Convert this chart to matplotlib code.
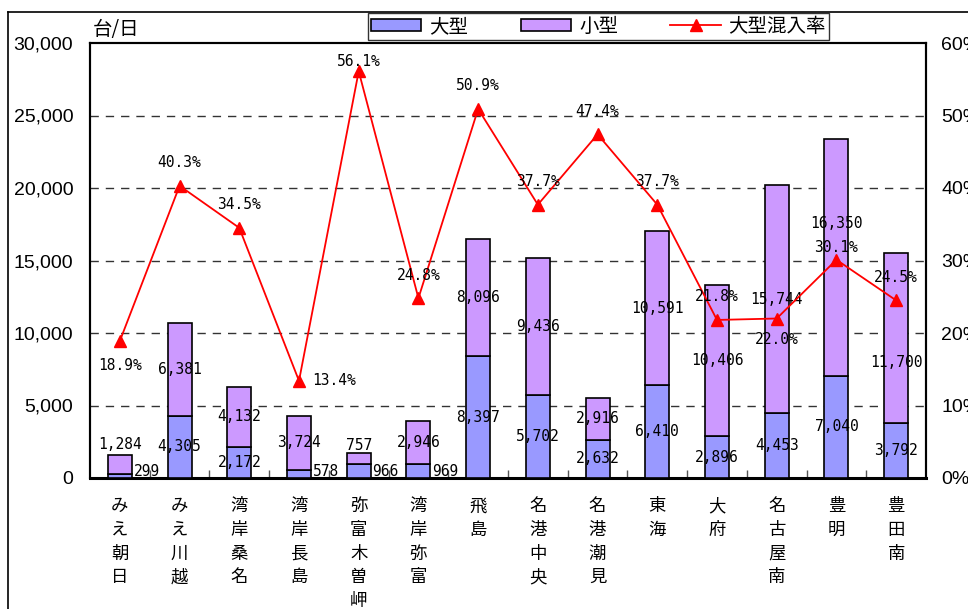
import matplotlib
matplotlib.use("Agg")
import matplotlib.pyplot as plt
from matplotlib.lines import Line2D
from matplotlib.patches import Patch
from matplotlib.ticker import FixedLocator, FuncFormatter
import numpy as np

plt.rcParams['font.family'] = ['Noto Sans CJK JP', 'DejaVu Sans']

# Traffic per toll gate (vehicles/day)
stations = ["みえ朝日", "みえ川越", "湾岸桑名", "湾岸長島", "弥富木曽岬", "湾岸弥富", "飛島",
            "名港中央", "名港潮見", "東海", "大府", "名古屋南", "豊明", "豊田南"]
large = [299, 4305, 2172, 578, 966, 969, 8397, 5702, 2632, 6410, 2896, 4453, 7040, 3792]
small = [1284, 6381, 4132, 3724, 757, 2946, 8096, 9436, 2916, 10591, 10406, 15744, 16350, 11700]
large_ratio = [18.9, 40.3, 34.5, 13.4, 56.1, 24.8, 50.9, 37.7, 47.4, 37.7, 21.8, 22.0, 30.1, 24.5]

C_LARGE = "#9999FF"
C_SMALL = "#CC99FF"
NUM_FONT = "DejaVu Sans Mono"

W, H = 968, 609
fig = plt.figure(figsize=(W / 100, H / 100), dpi=100)
ax = fig.add_axes([90 / W, (H - 478) / H, (926 - 90) / W, (478 - 43) / H])

x = np.arange(len(stations))
bw = 0.40
ax.bar(x, large, width=bw, color=C_LARGE, edgecolor="black", linewidth=1.2, zorder=3)
ax.bar(x, small, width=bw, bottom=large, color=C_SMALL, edgecolor="black",
       linewidth=1.2, zorder=3)

ax.set_xlim(-0.5, len(stations) - 0.5)
ax.set_ylim(0, 30000)
ax.set_yticks(range(0, 30001, 5000))
ax.yaxis.set_major_formatter(FuncFormatter(lambda v, p: f"{int(v):,}"))
for v in range(5000, 30000, 5000):
    ax.axhline(v, color="#333333", lw=1.0, ls=(0, (6, 5)), zorder=1)

ax.set_xticks(x)
ax.set_xticklabels(["\n".join(s) for s in stations], fontsize=12.5, linespacing=1.4)
ax.xaxis.set_minor_locator(FixedLocator(np.arange(0.5, len(stations) - 1, 1.0)))
ax.tick_params(axis="x", which="major", length=0, pad=14)
ax.tick_params(axis="x", which="minor", direction="in", length=6, width=1, color="#555555")
ax.tick_params(axis="y", length=0, pad=12, labelsize=14)
for lab in ax.get_yticklabels():
    lab.set_fontfamily("Liberation Sans")
for sp in ax.spines.values():
    sp.set_linewidth(1.5)
ax.spines["bottom"].set_linewidth(2.2)

# value labels for the two bar segments
large_side = {0, 3, 4, 5}          # too short: label sits to the right of the bar
small_over = {0: 11, 4: 8}         # label placed above the bar top (px)
small_shift = {12: 34, 13: -24}    # nudged from segment centre (px)
for i in x:
    if i in large_side:
        ax.annotate(f"{large[i]:,}", (i, 0), xytext=(27, 7), textcoords="offset pixels",
                    ha="center", va="center", fontsize=10.5, family=NUM_FONT, zorder=5)
    else:
        ax.annotate(f"{large[i]:,}", (i, large[i] / 2), ha="center", va="center",
                    fontsize=10.5, family=NUM_FONT, zorder=5)
    if i in small_over:
        ax.annotate(f"{small[i]:,}", (i, large[i] + small[i]), xytext=(0, small_over[i]),
                    textcoords="offset pixels", ha="center", va="center",
                    fontsize=10.5, family=NUM_FONT, zorder=5)
    else:
        ax.annotate(f"{small[i]:,}", (i, large[i] + small[i] / 2),
                    xytext=(0, small_shift.get(i, 0)), textcoords="offset pixels",
                    ha="center", va="center", fontsize=10.5, family=NUM_FONT, zorder=5)

# mix ratio on the secondary axis
ax2 = ax.twinx()
ax2.plot(x, large_ratio, color="red", lw=1.3, marker="^", ms=8, zorder=4)
ax2.set_ylim(0, 60)
ax2.set_yticks(range(0, 61, 10))
ax2.yaxis.set_major_formatter(FuncFormatter(lambda v, p: f"{int(v)}%"))
ax2.tick_params(axis="y", length=0, pad=11, labelsize=14)
for lab in ax2.get_yticklabels():
    lab.set_fontfamily("Liberation Sans")
for sp in ax2.spines.values():
    sp.set_linewidth(1.5)
ax2.spines["bottom"].set_visible(False)

ratio_off = {0: (0, -25), 3: (35, 0), 4: (0, 10), 11: (0, -21), 12: (0, 12)}
for i in x:
    dx, dy = ratio_off.get(i, (0, 23))
    ax2.annotate(f"{large_ratio[i]:.1f}%", (i, large_ratio[i]), xytext=(dx, dy),
                 textcoords="offset pixels", ha="center", va="center",
                 fontsize=10.5, family=NUM_FONT, zorder=6)

fig.text(116 / W, 1 - 30 / H, "台/日", ha="center", va="center", fontsize=14)

handles = [Patch(facecolor=C_LARGE, edgecolor="black", lw=1.2),
           Patch(facecolor=C_SMALL, edgecolor="black", lw=1.2),
           Line2D([], [], color="red", lw=1.3, marker="^", ms=8)]
leg = fig.legend(handles, ["大型", "小型", "大型混入率"], ncol=3, loc="center",
                 bbox_to_anchor=(368 / W, 1 - 41 / H, (829 - 368) / W, 29 / H),
                 mode="expand", fontsize=14, frameon=True, fancybox=False,
                 edgecolor="black", handlelength=2.6, handleheight=0.6,
                 borderpad=0.15, handletextpad=0.4, borderaxespad=0)
leg.get_frame().set_linewidth(1.0)

# outer chart frame
fig.add_artist(Line2D([8 / W, 1], [1 - 12 / H, 1 - 12 / H], transform=fig.transFigure,
                      color="black", lw=1.2))
fig.add_artist(Line2D([8 / W, 8 / W], [0, 1 - 12 / H], transform=fig.transFigure,
                      color="black", lw=1.2))

fig.savefig("out.png", dpi=100)
